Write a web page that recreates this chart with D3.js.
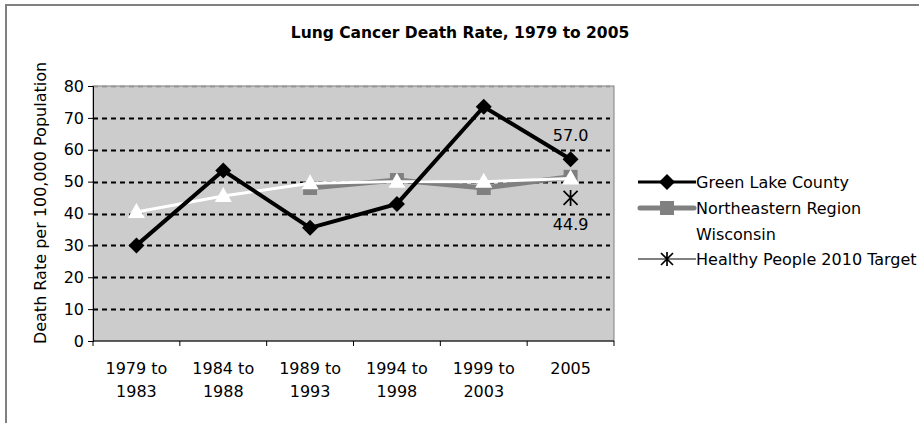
<!DOCTYPE html>
<html>
  <head>
    <meta charset="utf-8" />
    <title>Lung Cancer Death Rate</title>
    <script src="https://d3js.org/d3.v7.min.js"></script>
    <style>
      body { margin: 0; background: #fff; }
      text { font-family: Tahoma, "DejaVu Sans", sans-serif; fill: #000; }
    </style>
  </head>
  <body>
    <svg id="chart" width="919" height="423"></svg>

    <script>
      var categories = [
        ["1979 to", "1983"],
        ["1984 to", "1988"],
        ["1989 to", "1993"],
        ["1994 to", "1998"],
        ["1999 to", "2003"],
        ["2005"]
      ];
      var greenLake = [30.0, 53.5, 35.5, 43.0, 73.5, 57.0];
      var northeastern = [null, null, 48.0, 50.5, 48.0, 51.5];
      var wisconsin = [40.5, 45.5, 49.5, 50.0, 50.0, 51.0];
      var target = [null, null, null, null, null, 44.9];
      var yTicks = [0, 10, 20, 30, 40, 50, 60, 70, 80];

      var svg = d3.select("#chart");
      var plotLeft = 93, plotRight = 614, plotTop = 86, plotBottom = 341;

      // outer frame (only top and left edges show)
      svg.append("path")
        .attr("d", "M6,920 L6,5 L919,5")
        .attr("fill", "none")
        .attr("stroke", "#808080")
        .attr("stroke-width", 2);

      svg.append("text")
        .attr("x", 460).attr("y", 38)
        .attr("text-anchor", "middle")
        .attr("font-size", 15.5).attr("font-weight", "bold")
        .text("Lung Cancer Death Rate, 1979 to 2005");

      var x = d3.scaleBand().domain(d3.range(categories.length)).range([plotLeft, plotRight]);
      var y = d3.scaleLinear().domain([0, 80]).range([plotBottom, plotTop]);
      var cx = function (i) { return x(i) + x.bandwidth() / 2; };

      svg.append("rect")
        .attr("x", plotLeft).attr("y", plotTop)
        .attr("width", plotRight - plotLeft).attr("height", plotBottom - plotTop)
        .attr("fill", "#cccccc")
        .attr("stroke", "#808080").attr("stroke-width", 1);

      // gridlines
      svg.append("g").selectAll("line")
        .data(yTicks.filter(function (d) { return d > 0; }))
        .enter().append("line")
        .attr("x1", plotLeft).attr("x2", plotRight - 4)
        .attr("y1", function (d) { return Math.round(y(d)) + 0.5; })
        .attr("y2", function (d) { return Math.round(y(d)) + 0.5; })
        .attr("stroke", function (d) { return d === 80 ? "#999" : "#000"; })
        .attr("stroke-width", 2)
        .attr("stroke-dasharray", "5,4");

      // y axis
      var yAxis = svg.append("g")
        .attr("transform", "translate(" + plotLeft + ",0)")
        .call(d3.axisLeft(y).tickValues(yTicks).tickSize(5).tickPadding(4));
      yAxis.select(".domain").attr("stroke", "#000");
      yAxis.selectAll("text").attr("font-size", 16).attr("font-family", "Tahoma, 'DejaVu Sans', sans-serif");

      // x axis with ticks at band edges
      svg.append("line")
        .attr("x1", plotLeft).attr("x2", plotRight)
        .attr("y1", plotBottom).attr("y2", plotBottom)
        .attr("stroke", "#000");
      svg.append("g").selectAll("line")
        .data(d3.range(categories.length + 1))
        .enter().append("line")
        .attr("x1", function (i) { return i < categories.length ? x(i) : plotRight; })
        .attr("x2", function (i) { return i < categories.length ? x(i) : plotRight; })
        .attr("y1", plotBottom).attr("y2", plotBottom + 5)
        .attr("stroke", "#000");

      var xl = svg.append("g").selectAll("text")
        .data(categories)
        .enter().append("text")
        .attr("text-anchor", "middle")
        .attr("font-size", 16)
        .attr("x", function (d, i) { return cx(i); })
        .attr("y", 374);
      xl.selectAll("tspan")
        .data(function (d) { return d; })
        .enter().append("tspan")
        .attr("x", function () { return d3.select(this.parentNode).attr("x"); })
        .attr("dy", function (d, j) { return j === 0 ? 0 : 23; })
        .text(function (d) { return d; });

      svg.append("text")
        .attr("transform", "translate(46,203) rotate(-90)")
        .attr("text-anchor", "middle")
        .attr("font-size", 16)
        .text("Death Rate per 100,000 Population");

      function seriesLine(values) {
        return d3.line()
          .defined(function (d) { return d != null; })
          .x(function (d, i) { return cx(i); })
          .y(function (d) { return y(d); })(values);
      }

      var diamond = "M0,-8L8,0L0,8L-8,0Z";
      var tri = "M0,-9L8.5,6L-8.5,6Z";

      // Northeastern region
      svg.append("path").attr("d", seriesLine(northeastern))
        .attr("fill", "none").attr("stroke", "#808080").attr("stroke-width", 5);
      svg.append("g").selectAll("rect")
        .data(northeastern.map(function (v, i) { return { v: v, i: i }; }).filter(function (d) { return d.v != null; }))
        .enter().append("rect")
        .attr("x", function (d) { return cx(d.i) - 7; })
        .attr("y", function (d) { return y(d.v) - 7; })
        .attr("width", 14).attr("height", 14)
        .attr("fill", "#808080");

      // Wisconsin
      svg.append("path").attr("d", seriesLine(wisconsin))
        .attr("fill", "none").attr("stroke", "#fff").attr("stroke-width", 3);
      svg.append("g").selectAll("path")
        .data(wisconsin)
        .enter().append("path")
        .attr("d", tri)
        .attr("transform", function (d, i) { return "translate(" + cx(i) + "," + y(d) + ")"; })
        .attr("fill", "#fff");

      // Green Lake County
      svg.append("path").attr("d", seriesLine(greenLake))
        .attr("fill", "none").attr("stroke", "#000").attr("stroke-width", 4)
        .attr("stroke-linejoin", "miter");
      svg.append("g").selectAll("path")
        .data(greenLake)
        .enter().append("path")
        .attr("d", diamond)
        .attr("transform", function (d, i) { return "translate(" + cx(i) + "," + y(d) + ")"; })
        .attr("fill", "#000");

      // Healthy People 2010 target
      function star(g, px, py, r) {
        g.append("path")
          .attr("d", "M" + (px - r) + "," + (py - r) + "L" + (px + r) + "," + (py + r) +
            "M" + (px - r) + "," + (py + r) + "L" + (px + r) + "," + (py - r) +
            "M" + px + "," + (py - r - 1) + "L" + px + "," + (py + r + 1))
          .attr("stroke", "#000").attr("stroke-width", 1.7).attr("fill", "none");
      }
      var tg = svg.append("g");
      target.forEach(function (v, i) {
        if (v != null) star(tg, cx(i), y(v), 7);
      });

      // data labels
      svg.append("text")
        .attr("x", cx(5)).attr("y", y(greenLake[5]) - 18)
        .attr("text-anchor", "middle").attr("font-size", 16)
        .text(greenLake[5].toFixed(1));
      svg.append("text")
        .attr("x", cx(5)).attr("y", y(target[5]) + 32)
        .attr("text-anchor", "middle").attr("font-size", 16)
        .text(target[5].toFixed(1));

      // legend
      var lg = svg.append("g");
      var lx = 638, ltx = 696;
      var rows = [182, 208, 234, 259];
      lg.append("line").attr("x1", lx).attr("x2", ltx).attr("y1", rows[0]).attr("y2", rows[0])
        .attr("stroke", "#000").attr("stroke-width", 3);
      lg.append("path").attr("d", diamond).attr("transform", "translate(" + (lx + ltx) / 2 + "," + rows[0] + ")");
      lg.append("line").attr("x1", lx + 2).attr("x2", ltx - 2).attr("y1", rows[1]).attr("y2", rows[1])
        .attr("stroke", "#808080").attr("stroke-width", 5).attr("stroke-linecap", "round");
      lg.append("rect").attr("x", (lx + ltx) / 2 - 7).attr("y", rows[1] - 7)
        .attr("width", 14).attr("height", 14).attr("fill", "#808080");
      lg.append("line").attr("x1", lx).attr("x2", ltx).attr("y1", rows[3]).attr("y2", rows[3])
        .attr("stroke", "#000").attr("stroke-width", 1);
      star(lg, (lx + ltx) / 2, rows[3], 6);

      var legendNames = ["Green Lake County", "Northeastern Region", "Wisconsin", "Healthy People 2010 Target"];
      lg.selectAll("text.lbl")
        .data(legendNames)
        .enter().append("text")
        .attr("class", "lbl")
        .attr("x", ltx).attr("y", function (d, i) { return rows[i] + 6; })
        .attr("font-size", 16)
        .text(function (d) { return d; });
    </script>
  </body>
</html>
